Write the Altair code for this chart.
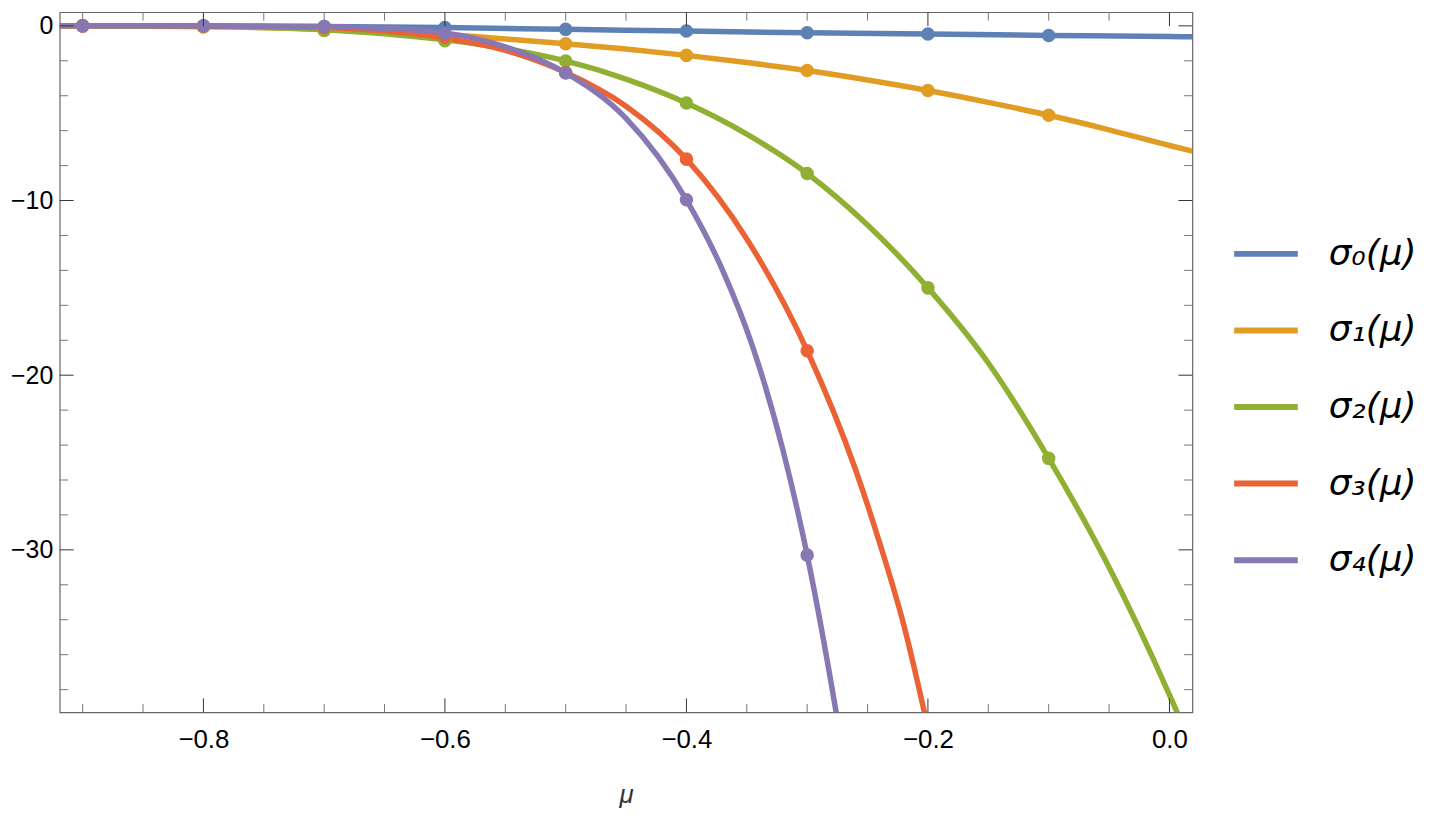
import altair as alt
import pandas as pd

SERIES = ["σ₀(μ)", "σ₁(μ)", "σ₂(μ)", "σ₃(μ)", "σ₄(μ)"]
COLORS = ["#5E81B5", "#E19C24", "#8FB032", "#EB6235", "#8778B3"]

# ---- sampled points (markers) ----
pt_mu = [-0.9, -0.8, -0.7, -0.6, -0.5, -0.4, -0.3, -0.2, -0.1]
pt_s0 = [0.0, -0.01, -0.04, -0.1, -0.2, -0.3, -0.4, -0.47, -0.55]
pt_s1 = [-0.01, -0.06, -0.26, -0.8, -1.02, -1.69, -2.56, -3.7, -5.12]
pt_s2 = [0.0, -0.03, -0.25, -0.85, -2.01, -4.42, -8.45, -15.0, -24.76]
pt_s3 = [0.0, -0.01, -0.1, -0.65, -2.67, -7.63, -18.6]
pt_s4 = [0.0, 0.0, -0.04, -0.45, -2.7, -9.96, -30.3]

# ---- curves ----
c0_mu = [-0.919, -0.9, -0.8, -0.7, -0.6, -0.5, -0.4, -0.3, -0.2, -0.1, 0.0, 0.019]
c0 = [0.0, 0.0, -0.01, -0.04, -0.1, -0.2, -0.3, -0.4, -0.47, -0.55, -0.61, -0.63]
c1_mu = [-0.919, -0.9, -0.8, -0.7, -0.65, -0.6, -0.55, -0.5, -0.45, -0.4, -0.35,
         -0.3, -0.25, -0.2, -0.15, -0.1, -0.05, 0.0, 0.019]
c1 = [0.0, -0.01, -0.05, -0.2, -0.33, -0.5, -0.75, -1.02, -1.33, -1.69, -2.1,
      -2.56, -3.1, -3.7, -4.38, -5.12, -5.95, -6.85, -7.17]
c2_mu = [-0.919, -0.9, -0.8, -0.7, -0.65, -0.6, -0.55, -0.5, -0.45, -0.4, -0.35,
         -0.3, -0.25, -0.2, -0.15, -0.1, -0.05, 0.0, 0.007, 0.019]
c2 = [0.0, 0.0, -0.03, -0.22, -0.45, -0.8, -1.3, -2.01, -3.05, -4.42, -6.2,
      -8.45, -11.4, -15.0, -19.3, -24.76, -31.0, -38.3, -39.4, -41.2]
c3_mu = [-0.919, -0.9, -0.8, -0.7, -0.65, -0.6, -0.55, -0.5, -0.45, -0.4, -0.35,
         -0.3, -0.26, -0.24, -0.22, -0.2]
c3 = [0.0, 0.0, -0.01, -0.1, -0.3, -0.7, -1.4, -2.67, -4.6, -7.63, -12.2,
      -18.6, -25.4, -29.6, -34.3, -40.2]
c4_mu = [-0.919, -0.9, -0.8, -0.7, -0.65, -0.6, -0.55, -0.5, -0.45, -0.4, -0.37,
         -0.345, -0.32, -0.3, -0.276, -0.27]
c4 = [0.0, 0.0, 0.0, -0.04, -0.15, -0.4, -1.2, -2.7, -5.3, -9.96, -14.0,
      -18.4, -24.3, -30.3, -39.3, -41.8]

# ---- axis ticks ----
x_major = [-0.8, -0.6, -0.4, -0.2, 0.0]
x_minor = [-0.9, -0.85, -0.75, -0.7, -0.65, -0.55, -0.5, -0.45, -0.35, -0.3,
           -0.25, -0.15, -0.1, -0.05]
y_major = [0, -10, -20, -30]
y_minor = [-2, -4, -6, -8, -12, -14, -16, -18, -22, -24, -26, -28,
           -32, -34, -36, -38]

X_DOMAIN = [-0.919, 0.019]
Y_DOMAIN = [-39.3, 0.78]
W, H = 1139, 704
FONT = "Liberation Sans"

curves = [(c0_mu, c0), (c1_mu, c1), (c2_mu, c2), (c3_mu, c3), (c4_mu, c4)]
rows = []
for i, (mus, vals) in enumerate(curves):
    for k, (m, v) in enumerate(zip(mus, vals)):
        rows.append({"mu": m, "value": v, "series": SERIES[i], "order": k})
line_df = pd.DataFrame(rows)

pts = [pt_s0, pt_s1, pt_s2, pt_s3, pt_s4]
prow = []
for i, vals in enumerate(pts):
    for m, v in zip(pt_mu, vals):
        prow.append({"mu": m, "value": v, "series": SERIES[i]})
pt_df = pd.DataFrame(prow)

xs = alt.Scale(domain=X_DOMAIN, nice=False, zero=False)
ys = alt.Scale(domain=Y_DOMAIN, nice=False, zero=False)
cs = alt.Scale(domain=SERIES, range=COLORS)

AX_X = alt.Axis(values=x_major, format=".1f", ticks=False, domain=False,
                grid=False, labelFontSize=26, labelFont=FONT,
                labelColor="#000", labelPadding=14,
                titleFont=FONT, titleFontSize=26, titleFontStyle="italic",
                titleFontWeight="normal", titleColor="#333", titlePadding=30)
AX_Y = alt.Axis(values=y_major, format="d", ticks=False, domain=False,
                grid=False, labelFontSize=25, labelFont=FONT,
                labelColor="#000", labelPadding=7)


def X(field="mu"):
    return alt.X(f"{field}:Q", scale=xs, title="μ", axis=AX_X)


def Y(field="value"):
    return alt.Y(f"{field}:Q", scale=ys, title=None, axis=AX_Y)


lines = alt.Chart(line_df).mark_line(
    strokeWidth=5.5, clip=True, interpolate="monotone"
).encode(
    x=X(), y=Y(),
    color=alt.Color("series:N", scale=cs, sort=SERIES,
                    legend=alt.Legend(orient="none", legendX=1178, legendY=208,
                                      title=None, symbolType="stroke",
                                      symbolSize=4096, symbolStrokeWidth=6,
                                      labelFontSize=36, labelFont="DejaVu Sans",
                                      labelFontStyle="italic",
                                      labelColor="#000", labelOffset=28,
                                      rowPadding=24, padding=0)),
    order="order:Q",
)

points = alt.Chart(pt_df).mark_circle(size=185, opacity=1, clip=True).encode(
    x=X(), y=Y(),
    color=alt.Color("series:N", scale=cs, sort=SERIES, legend=None),
)

MAJ, MIN = 14, 8.5
xmaj = pd.DataFrame({"mu": x_major})
xmin = pd.DataFrame({"mu": x_minor})
ymaj = pd.DataFrame({"value": y_major})
ymin = pd.DataFrame({"value": y_minor})


def xticks(df, length, color, top):
    y1, y2 = (0, length) if top else (H, H - length)
    return alt.Chart(df).mark_rule(color=color, strokeWidth=1).encode(
        x=X(), y=alt.value(y1), y2=alt.value(y2))


def yticks(df, length, color, right):
    x1, x2 = (W, W - length) if right else (0, length)
    return alt.Chart(df).mark_rule(color=color, strokeWidth=1).encode(
        y=Y(), x=alt.value(x1), x2=alt.value(x2))


tick_layers = [
    xticks(xmaj, MAJ, "#333", False), xticks(xmin, MIN, "#777", False),
    xticks(xmaj, MAJ, "#333", True), xticks(xmin, MIN, "#777", True),
    yticks(ymaj, MAJ, "#333", False), yticks(ymin, MIN, "#777", False),
    yticks(ymaj, MAJ, "#333", True), yticks(ymin, MIN, "#777", True),
]

chart = alt.layer(lines, points, *tick_layers).properties(
    width=W, height=H,
    autosize=alt.AutoSizeParams(type="none"),
    padding={"left": 52, "top": 2, "right": 250, "bottom": 100},
).configure_view(stroke="#666", strokeWidth=1.2)

chart.save("out.html", embed_options={"renderer": "svg", "actions": False})
